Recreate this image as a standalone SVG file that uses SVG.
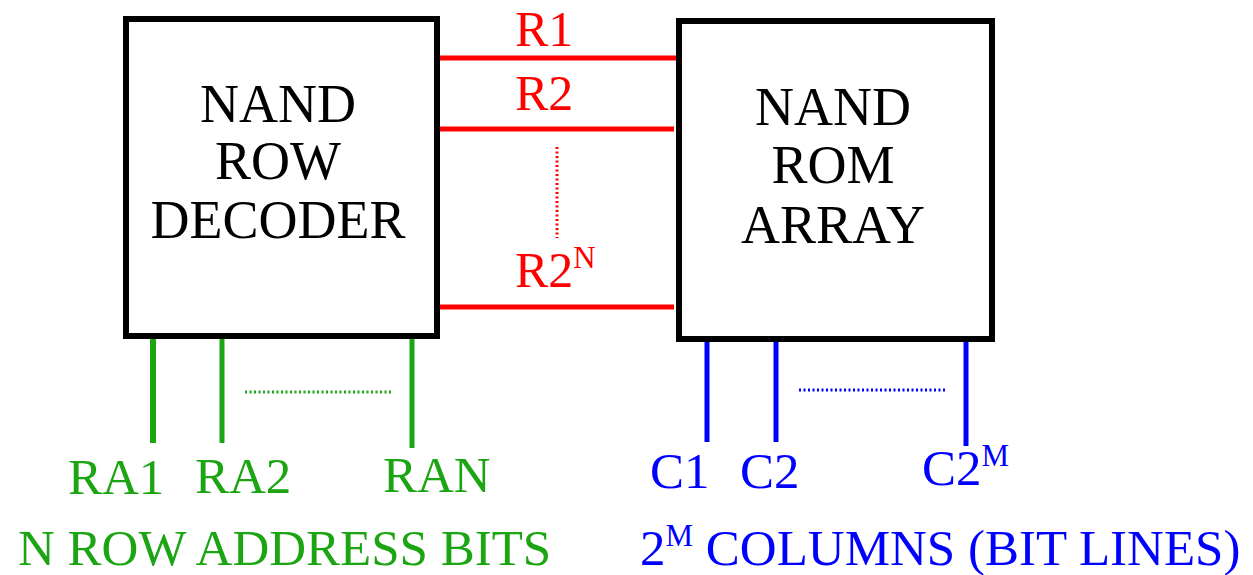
<svg xmlns="http://www.w3.org/2000/svg" width="1253" height="575" viewBox="0 0 1253 575">
<style>
text{font-family:"Liberation Serif","DejaVu Serif",serif;}
.box{fill:#fff;stroke:#000;stroke-width:6;}
.bt{font-size:54px;fill:#000;text-anchor:middle;}
.red{stroke:#ff0000;stroke-width:5;fill:none;}
.grn{stroke:#1ba512;fill:none;}
.blu{stroke:#0000ff;stroke-width:5;fill:none;}
.dot{stroke-width:3;stroke-dasharray:2 2.5;fill:none;}
.rt{font-size:50px;fill:#ff0000;}
.gt{font-size:51px;fill:#1ba512;}
.ct{font-size:51px;fill:#0000ff;}
.sup{font-size:31px;}
</style>
<rect width="1253" height="575" fill="#fff"/>
<g id="connectors">
  <line class="red" x1="440" y1="58" x2="676" y2="58"/>
  <line class="red" x1="440" y1="129" x2="674" y2="129"/>
  <line class="red" x1="440" y1="307" x2="674" y2="307"/>
  <line class="dot" stroke="#ff0000" x1="557" y1="147" x2="557" y2="238"/>
  <line class="grn" stroke-width="6" x1="153" y1="338" x2="153" y2="443"/>
  <line class="grn" stroke-width="5" x1="222" y1="338" x2="222" y2="443"/>
  <line class="grn" stroke-width="5" x1="412" y1="338" x2="412" y2="448"/>
  <line class="dot" stroke="#1ba512" x1="245" y1="392" x2="393" y2="392"/>
  <line class="blu" x1="707" y1="341" x2="707" y2="442"/>
  <line class="blu" x1="776" y1="341" x2="776" y2="442"/>
  <line class="blu" x1="966" y1="341" x2="966" y2="446"/>
  <line class="dot" stroke="#0000ff" x1="799" y1="390" x2="946" y2="390"/>
</g>
<g id="decoder">
  <rect class="box" x="126" y="19" width="311" height="317"/>
  <text class="bt" x="278" y="122">NAND</text>
  <text class="bt" x="278" y="179">ROW</text>
  <text class="bt" x="278" y="238">DECODER</text>
</g>
<g id="rom">
  <rect class="box" x="679" y="21" width="313" height="318"/>
  <text class="bt" x="833" y="125">NAND</text>
  <text class="bt" x="833" y="183">ROM</text>
  <text class="bt" x="833" y="243">ARRAY</text>
</g>
<g id="row-labels">
  <text class="rt" x="515" y="46">R1</text>
  <text class="rt" x="515" y="110">R2</text>
  <text class="rt" x="515" y="287">R2<tspan class="sup" dy="-19">N</tspan></text>
</g>
<g id="address-labels">
  <text class="gt" x="68" y="494">RA1</text>
  <text class="gt" x="195" y="493">RA2</text>
  <text class="gt" x="383" y="492">RAN</text>
  <text class="gt" x="18" y="565">N ROW ADDRESS BITS</text>
</g>
<g id="column-labels">
  <text class="ct" x="650" y="488">C1</text>
  <text class="ct" x="740" y="488">C2</text>
  <text class="ct" x="922" y="485">C2<tspan class="sup" dy="-19">M</tspan></text>
  <text class="ct" x="640" y="565">2<tspan class="sup" dy="-19">M</tspan><tspan dy="19"> COLUMNS (BIT LINES)</tspan></text>
</g>
</svg>
